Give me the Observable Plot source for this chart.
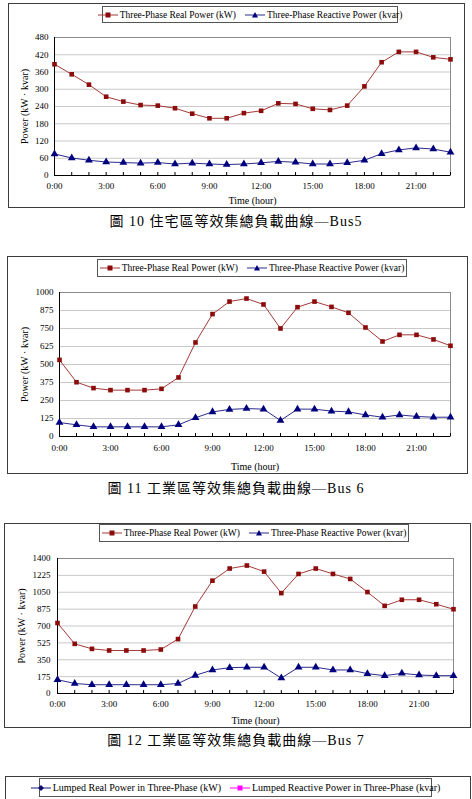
<!DOCTYPE html>
<html>
<head>
<meta charset="utf-8">
<script src="https://cdn.jsdelivr.net/npm/d3@7"></script>
<script src="https://cdn.jsdelivr.net/npm/@observablehq/plot@0.6"></script>
<style>
  html, body { margin: 0; padding: 0; background: #fff; }
  body { width: 472px; height: 799px; position: relative; overflow: hidden; font-family: "Liberation Serif", "Times New Roman", serif; }
  .frame { position: absolute; border: 1px solid #3c3c3c; box-sizing: border-box; background: #fff; }
  .chart { position: absolute; }
  .chart svg { display: block; overflow: visible; }
  .legend { position: absolute; border: 1px solid #555; background: #fff; box-sizing: border-box;
            display: flex; align-items: center; justify-content: center; gap: 9px;
            font-size: 9.5px; white-space: nowrap; color: #000; }
  .legend .item { display: flex; align-items: center; gap: 2px; }
  .legend svg { display: block; }
  .caption { position: absolute; left: 0; width: 472px; text-align: center; font-size: 14px; line-height: 16px;
             letter-spacing: 1px; color: #000;
             font-family: "Liberation Serif", "Noto Sans CJK TC", serif; }
</style>
</head>
<body>
<script>
// Hours of the day (x axis) and the labelled hours
const hours = [0, 1, 2, 3, 4, 5, 6, 7, 8, 9, 10, 11, 12, 13, 14, 15, 16, 17, 18, 19, 20, 21, 22, 23];
const labelledHours = [0, 3, 6, 9, 12, 15, 18, 21];

// Bus 5 (residential) load curve
const bus5Real     = [387, 352, 316, 274, 257, 245, 243, 234, 215, 199, 199, 217, 225, 251, 249, 232, 228, 243, 310, 394, 430, 430, 411, 404];
const bus5Reactive = [75, 61, 53, 47, 45, 43, 45, 40, 43, 40, 38, 40, 44, 49, 46, 40, 40, 44, 53, 76, 89, 96, 92, 81];
const bus5Ticks    = [0, 60, 120, 180, 240, 300, 360, 420, 480];

// Bus 6 (industrial) load curve
const bus6Real     = [532, 377, 336, 322, 322, 322, 331, 410, 653, 850, 937, 958, 917, 750, 898, 937, 900, 859, 757, 660, 706, 706, 674, 630];
const bus6Reactive = [97, 81, 67, 67, 67, 67, 67, 81, 130, 171, 188, 194, 190, 111, 190, 190, 176, 171, 150, 134, 150, 139, 134, 134];
const bus6Ticks    = [0, 125, 250, 375, 500, 625, 750, 875, 1000];

// Bus 7 (industrial) load curve
const bus7Real     = [731, 515, 463, 446, 446, 446, 456, 564, 902, 1170, 1296, 1327, 1264, 1041, 1240, 1296, 1240, 1188, 1052, 909, 972, 972, 926, 874];
const bus7Reactive = [143, 104, 91, 91, 91, 91, 91, 104, 188, 244, 268, 272, 272, 160, 272, 272, 244, 244, 206, 185, 209, 192, 185, 185];
const bus7Ticks    = [0, 175, 350, 525, 700, 875, 1050, 1225, 1400];

// Texts
const realLabel = "Three-Phase Real Power (kW)";
const reactiveLabel = "Three-Phase Reactive Power (kvar)";
const lumpedRealLabel = "Lumped Real Power in Three-Phase (kW)";
const lumpedReactiveLabel = "Lumped Reactive Power in Three-Phase (kvar)";
const xLabel = "Time (hour)";
const yLabel = "Power (kW · kvar)";
const captions = ["圖 10 住宅區等效集總負載曲線—Bus5", "圖 11 工業區等效集總負載曲線—Bus 6", "圖 12 工業區等效集總負載曲線—Bus 7"];

const realColor = "#a33a38", realMarker = "#8c0c0c";
const reactColor = "#2b2b8c", reactMarker = "#00007e";

function swatch(kind, color, fill) {
  const ns = "http://www.w3.org/2000/svg";
  const svg = document.createElementNS(ns, "svg");
  svg.setAttribute("width", 20); svg.setAttribute("height", 10);
  const line = document.createElementNS(ns, "line");
  line.setAttribute("x1", 0); line.setAttribute("x2", 20); line.setAttribute("y1", 5); line.setAttribute("y2", 5);
  line.setAttribute("stroke", color); line.setAttribute("stroke-width", 1);
  svg.appendChild(line);
  const p = document.createElementNS(ns, "path");
  const shapes = {
    square: "M7.5,2.5h5v5h-5z",
    triangle: "M10,2L13,7.5H7z",
    diamond: "M10,2L13,5L10,8L7,5z"
  };
  p.setAttribute("d", shapes[kind]);
  p.setAttribute("fill", fill);
  svg.appendChild(p);
  return svg;
}

function addLegend(box, items, fontSize) {
  const div = document.createElement("div");
  div.className = "legend";
  Object.assign(div.style, {left: box.left + "px", top: box.top + "px", width: box.width + "px", height: box.height + "px"});
  if (fontSize) div.style.fontSize = fontSize;
  for (const it of items) {
    const item = document.createElement("div");
    item.className = "item";
    item.appendChild(swatch(it.shape, it.color, it.fill));
    const span = document.createElement("span");
    span.textContent = it.label;
    item.appendChild(span);
    div.appendChild(item);
  }
  document.body.appendChild(div);
}

function addFrame(left, top, width, height) {
  const f = document.createElement("div");
  f.className = "frame";
  Object.assign(f.style, {left: left + "px", top: top + "px", width: width + "px", height: height + "px"});
  document.body.appendChild(f);
}

function addCaption(text, top) {
  const c = document.createElement("div");
  c.className = "caption";
  c.style.top = top + "px";
  c.textContent = text;
  document.body.appendChild(c);
}

function drawPanel(cfg) {
  addFrame(cfg.left, cfg.top, cfg.width, cfg.height);
  const innerH = cfg.height - cfg.mt - cfg.mb;
  const yMax = cfg.ticks[cfg.ticks.length - 1];
  const chart = Plot.plot({
    width: cfg.width,
    height: cfg.height,
    marginLeft: cfg.ml, marginRight: cfg.mr, marginTop: cfg.mt, marginBottom: cfg.mb,
    style: {fontFamily: "'Liberation Serif', 'Times New Roman', serif", fontSize: "9px", background: "transparent", color: "#000"},
    x: {domain: [0, 23]},
    y: {domain: [0, yMax]},
    marks: [
      Plot.ruleY(cfg.ticks.slice(1), {stroke: "#c9c9c9", strokeWidth: 1}),
      Plot.frame({stroke: "#8a8a8a"}),
      Plot.ruleY([0], {stroke: "#000"}),
      Plot.ruleX([0], {stroke: "#000"}),
      Plot.tickX(hours, {x: d => d, insetTop: innerH - 3, stroke: "#000"}),
      Plot.axisY({ticks: cfg.ticks, tickSize: 0, tickPadding: cfg.yPad, label: null, tickFormat: d => String(d)}),
      Plot.axisX({ticks: labelledHours, tickSize: 0, tickPadding: cfg.xPad, label: null, tickFormat: d => `${d}:00`}),
      Plot.text([xLabel], {text: d => d, frameAnchor: "bottom", lineAnchor: "middle", dy: cfg.xLabelDy, fontSize: 10}),
      Plot.text([yLabel], {text: d => d, frameAnchor: "left", lineAnchor: "middle", textAnchor: "middle", rotate: -90, dx: cfg.yLabelDx, fontSize: 10}),
      Plot.line(hours, {x: d => d, y: (d, i) => cfg.real[i], stroke: realColor, strokeWidth: 1}),
      Plot.line(hours, {x: d => d, y: (d, i) => cfg.reactive[i], stroke: reactColor, strokeWidth: 1}),
      Plot.dot(hours, {x: d => d, y: (d, i) => cfg.real[i], symbol: "square", r: 2.6, fill: realMarker, stroke: "none"}),
      Plot.dot(hours, {x: d => d, y: (d, i) => cfg.reactive[i], symbol: "triangle", r: 2.9, fill: reactMarker, stroke: "none"})
    ]
  });
  const holder = document.createElement("div");
  holder.className = "chart";
  Object.assign(holder.style, {left: cfg.left + "px", top: cfg.top + "px"});
  holder.appendChild(chart);
  document.body.appendChild(holder);

  addLegend(cfg.legend, [
    {shape: "square", color: realColor, fill: realMarker, label: realLabel},
    {shape: "triangle", color: reactColor, fill: reactMarker, label: reactiveLabel}
  ]);
  addCaption(cfg.caption, cfg.captionTop);
}

drawPanel({
  left: 8, top: 3, width: 457, height: 205,
  ml: 46, mr: 15, mt: 34, mb: 33,
  yPad: 6, xPad: 7, xLabelDy: 25, yLabelDx: -30,
  ticks: bus5Ticks, real: bus5Real, reactive: bus5Reactive,
  legend: {left: 102, top: 6, width: 296, height: 17},
  caption: captions[0], captionTop: 214
});

drawPanel({
  left: 7, top: 256, width: 461, height: 218,
  ml: 52, mr: 18, mt: 36, mb: 38,
  yPad: 6, xPad: 8, xLabelDy: 30, yLabelDx: -35,
  ticks: bus6Ticks, real: bus6Real, reactive: bus6Reactive,
  legend: {left: 97, top: 259, width: 310, height: 18},
  caption: captions[1], captionTop: 481
});

drawPanel({
  left: 4, top: 523, width: 467, height: 205,
  ml: 53, mr: 18, mt: 35, mb: 35,
  yPad: 7, xPad: 7, xLabelDy: 27, yLabelDx: -36,
  ticks: bus7Ticks, real: bus7Real, reactive: bus7Reactive,
  legend: {left: 99, top: 524, width: 310, height: 18},
  caption: captions[2], captionTop: 733
});

// Next figure (lumped load curve) begins at the bottom of the page
addFrame(5, 776, 466, 60);
addLegend({left: 39, top: 778, width: 393, height: 19}, [
  {shape: "diamond", color: "#1a1a80", fill: "#101070", label: lumpedRealLabel},
  {shape: "square", color: "#ff00ff", fill: "#ff00ff", label: lumpedReactiveLabel}
], "10px");
</script>
</body>
</html>
